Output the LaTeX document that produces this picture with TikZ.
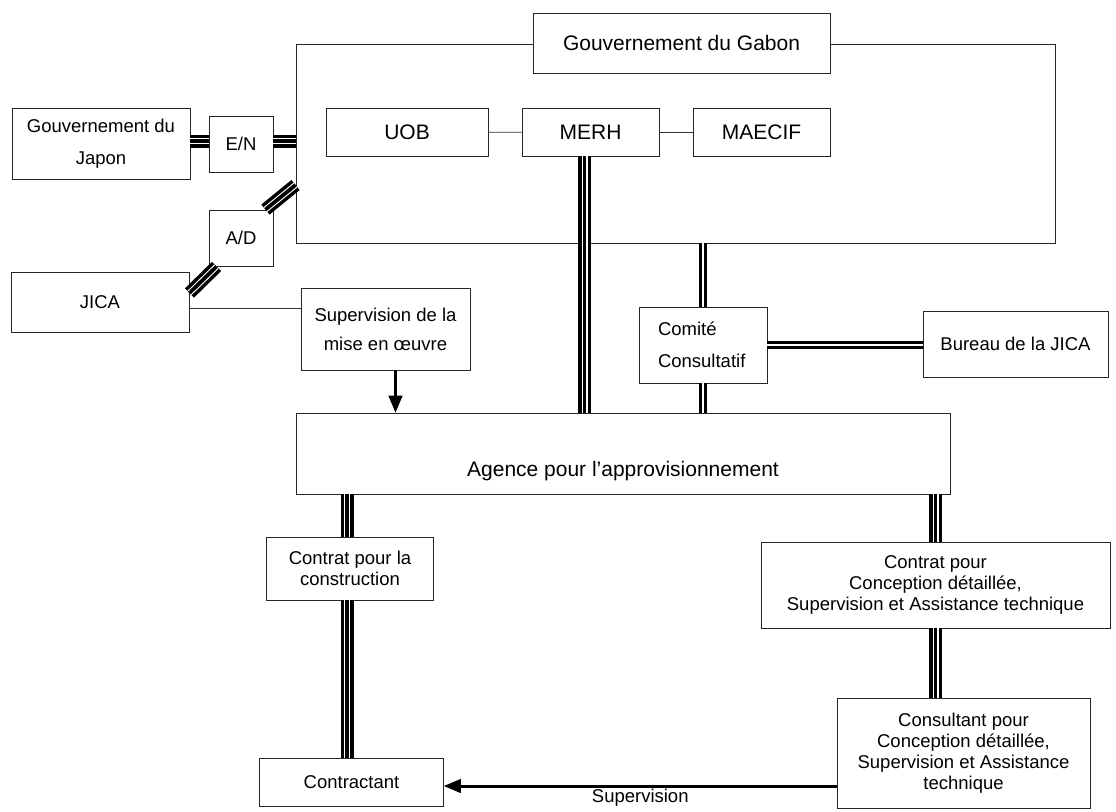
\documentclass[tikz,border=0pt]{standalone}
\usepackage{fontspec}
\setmainfont{Liberation Sans}
\usetikzlibrary{arrows,shapes}
\tikzstyle{box}=[rectangle, draw=black!85
,line width=0.9pt
,fill=white
,inner sep=0pt
,align=center
,font=\fontsize{18.5}{21}\selectfont
]
\tikzstyle{big box} = [box, font=\fontsize{21}{24}\selectfont]
\tikzstyle{frame box} = [rectangle, draw=black!85, line width=0.9pt, inner sep=0pt]
\tikzstyle{edge} = [draw,black!80,line width=0.8pt,-]
\tikzstyle{triple edge} = [draw,line width=13pt,postaction={draw,white,line width=6pt},postaction={draw,black,line width=3.8pt}]
\tikzstyle{double edge} = [draw,double,line width=3pt,double distance=1.2pt]
\tikzstyle{arrow edge} = [draw,line width=3pt,-triangle 45]

\begin{document}
\begin{tikzpicture}[x=1pt,y=-1pt]
    \useasboundingbox (0,0) rectangle (1116,811);
    % The frame of the Gabon side, with its title on the top edge
    \node[frame box, minimum width=759pt, minimum height=199pt] (gabonframe) at (675.5,143.5) {};
    \node[big box, minimum width=297pt, minimum height=60pt] (gabon) at (681.5,43) {Gouvernement du Gabon};
    \foreach \pos/\name/\txt/\boxw in {{(407,132.5)/uob/UOB/162}, {(590.5,132)/merh/MERH/137}, {(761.5,132)/maecif/MAECIF/137}}
        \node[big box, minimum width=\boxw pt, minimum height=48pt] (\name) at \pos {\txt};

    % Japan side
    \node[box, minimum width=178pt, minimum height=71pt] (japon) at (101,143.5) {Gouvernement du\\[11pt]Japon};
    \node[box, minimum width=64pt, minimum height=56pt] (en) at (241,144) {E/N};
    \node[box, minimum width=64pt, minimum height=56pt] (ad) at (241,238) {A/D};
    \node[box, minimum width=178pt, minimum height=60pt] (jica) at (100,302) {JICA};
    \node[box, minimum width=169pt, minimum height=82pt] (sup) at (385.5,329) {Supervision de la\\[8pt]mise en œuvre};

    % Committee and JICA office
    \node[box, minimum width=128pt, minimum height=76pt, inner xsep=19pt, text width=90pt, align=left] (comite) at (703,345) {Comité\\[11pt]Consultatif};
    \node[box, minimum width=185pt, minimum height=66pt] (bureau) at (1015.5,344) {Bureau de la JICA};

    % Procurement agent and contracts
    \node[big box, minimum width=654pt, minimum height=81pt, text height=49pt, text depth=4pt] (agence) at (623,453.5) {Agence pour l’approvisionnement};
    \node[box, minimum width=167pt, minimum height=63pt] (contr) at (350,568.5) {Contrat pour la\\construction};
    \node[box, minimum width=349pt, minimum height=86pt] (concep) at (935.5,585) {Contrat pour\\Conception détaillée,\\Supervision et Assistance technique};
    \node[box, minimum width=253pt, minimum height=110pt] (consult) at (963.5,753) {Consultant pour\\Conception détaillée,\\Supervision et Assistance\\technique};
    \node[box, minimum width=184pt, minimum height=48pt] (contractant) at (351.5,782) {Contractant};

    \coordinate (merhfoot) at ([xshift=-6pt]merh.south);
    \coordinate (supfoot) at ([xshift=10pt]sup.south);
    \coordinate (contrhead) at ([yshift=-4pt]contractant.east);

    % Thin links
    \foreach \source/ \dest in {uob/merh, merh/maecif}
        \path[edge] (\source) -- (\dest);
    \path[edge] ([yshift=-6pt]jica.east) -- ([yshift=-6pt]jica.east -| sup.west);

    % Triple links
    \path[triple edge] ([yshift=3pt]en.west -| japon.east) -- ([yshift=3pt]en.west);
    \path[triple edge] ([yshift=3pt]en.east) -- ([yshift=3pt]en.east -| gabonframe.west);
    \path[triple edge] ([yshift=-41.5pt]gabonframe.west) -- ([xshift=-8pt]ad.north east);
    \path[triple edge] ([xshift=8pt]ad.south west) -- ([yshift=9pt]jica.east);
    \path[triple edge] (merhfoot) -- (merhfoot |- agence.north);
    \path[triple edge] ([xshift=-3pt]contr.north |- agence.south) -- ([xshift=-3pt]contr.north);
    \path[triple edge] ([xshift=-3pt]contr.south) -- ([xshift=-3pt]contr.south |- contractant.north);
    \path[triple edge] (concep.north |- agence.south) -- (concep.north);
    \path[triple edge] (concep.south) -- (concep.south |- consult.north);

    % Double links
    \path[double edge] (comite.north |- gabonframe.south) -- (comite.north);
    \path[double edge] (comite.south) -- (comite.south |- agence.north);
    \path[double edge] (comite.east) -- (comite.east -| bureau.west);

    % Arrows
    \path[arrow edge] (supfoot) -- (supfoot |- agence.north);
    \path[arrow edge] (contrhead -| consult.west) -- (contrhead)
        node[midway, below, inner sep=2pt, font=\fontsize{18.5}{21}\selectfont] (suplabel) {Supervision};
\end{tikzpicture}
\end{document}
